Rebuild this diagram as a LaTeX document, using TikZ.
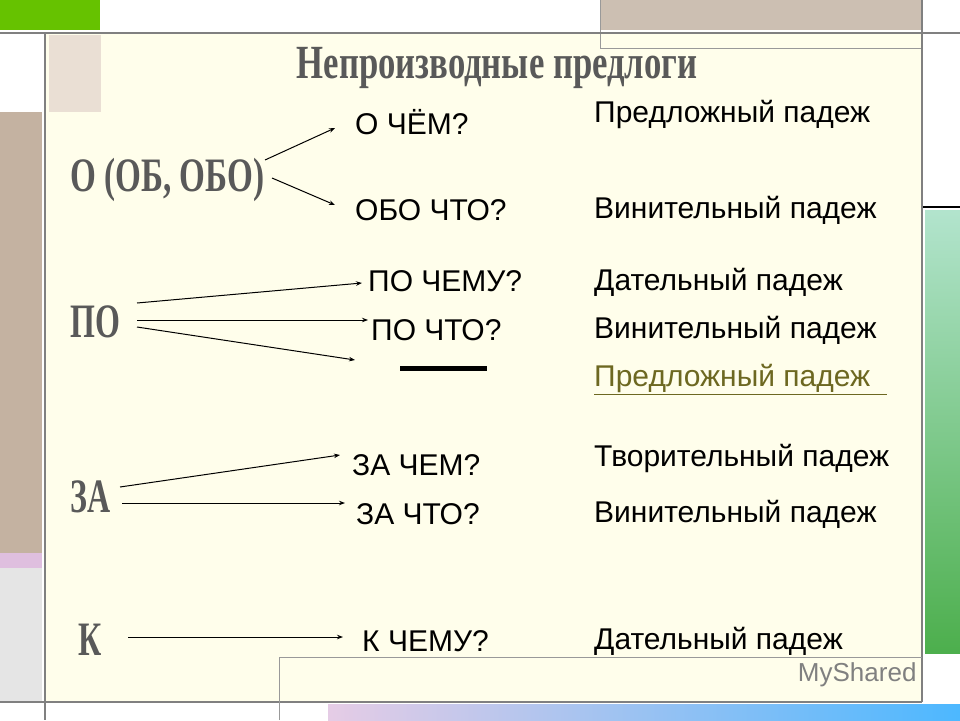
\documentclass[tikz,border=0pt]{standalone}
\usepackage{fontspec}
\setmainfont{Liberation Sans}
\newfontfamily\ttl{Liberation Serif}
\usetikzlibrary{arrows.meta}
\tikzset{
 q/.style={anchor=west,inner sep=0pt,font=\fontsize{30}{32}\selectfont},
 pr/.style={inner sep=0pt,text=black!65,font=\ttl\bfseries\fontsize{40}{44}\selectfont},
 ar/.style={-{Stealth[length=6pt,width=4.5pt]},line width=1pt},
}
\begin{document}
\begin{tikzpicture}[x=1pt,y=-1pt]
\useasboundingbox (0,0) rectangle (960,720);
\fill[white] (0,0) rectangle (960,720);
% decorative background
\fill[green!60!black!60!yellow] (0,0) rectangle (100,30);
\fill[brown!40!gray!50] (600,0) rectangle (922,30);
\fill[brown!45!gray!60] (0,112) rectangle (42,553);
\fill[violet!25] (0,553) rectangle (42,568);
\fill[gray!20] (0,568) rectangle (42,702);
\shade[top color=green!30!teal!30, bottom color=green!55!black!70] (925,210) rectangle (960,653);
\draw[line width=2pt] (922,207) -- (960,207);
\shade[left color=violet!20, right color=cyan!60!blue!70] (328,704) rectangle (960,720);
\fill[yellow!8] (45,33) rectangle (922,702);
\fill[gray!30!brown!25] (49,35) rectangle (101,112);
\draw[gray!80] (600,0) -- (600,48) -- (922,48);
\draw[gray,line width=2pt] (0,33) -- (960,33);
\draw[gray,line width=2pt] (45,33) -- (45,720);
\draw[gray,line width=1.5pt] (922,0) -- (922,702);
\draw[gray,line width=2.5pt] (0,702) -- (922,702);
\draw[gray!80] (279,720) -- (279,657) -- (922,657);
\node[font=\fontsize{26}{28}\selectfont,text=gray,anchor=east] (ms) at (920,675) {MyShared};
% title
\node[pr,font=\ttl\bfseries\fontsize{34}{36}\selectfont] (t) at (497,68) {\scalebox{1.02}[1.4]{Непроизводные предлоги}};
% prepositions
\node[pr,anchor=west] (o) at (70,180) {\scalebox{0.83}[1.2]{О (ОБ, ОБО)}};
\node[pr,anchor=west] (po) at (70,322) {\scalebox{0.8}[1.2]{ПО}};
\node[pr,anchor=west] (za) at (70,497) {\scalebox{0.8}[1.2]{ЗА}};
\node[pr,anchor=west] (k) at (78,640) {\scalebox{0.8}[1.2]{К}};
% questions
\node[q] (q1) at (355,122) {О ЧЁМ?};
\node[q] (q2) at (355,210) {ОБО ЧТО?};
\node[q] (q3) at (368,281) {ПО ЧЕМУ?};
\node[q] (q4) at (371,330) {ПО ЧТО?};
\node[q] (q5) at (352,465) {ЗА ЧЕМ?};
\node[q] (q6) at (356,514) {ЗА ЧТО?};
\node[q] (q7) at (362,641) {К ЧЕМУ?};
% cases
\node[q] (c1) at (594,114) {Предложный падеж};
\node[q] (c2) at (594,210) {Винительный падеж};
\node[q] (c3) at (594,282) {Дательный падеж};
\node[q] (c4) at (594,330) {Винительный падеж};
\node[q,text=olive!70!black] (c5) at (594,378) {Предложный падеж};
\draw[olive!70!black,line width=1.2pt] (c5.south west)++(0,2) -- ++(293,0);
\node[q] (c6) at (594,458) {Творительный падеж};
\node[q] (c7) at (594,514) {Винительный падеж};
\node[q] (c8) at (594,641) {Дательный падеж};
% arrows
\coordinate (a1) at (335,128); \coordinate (a2) at (335,205);
\coordinate (b1) at (362,283); \coordinate (b2) at (368,320); \coordinate (b3) at (355,360);
\coordinate (d1) at (340,455); \coordinate (d2) at (345,503); \coordinate (e1) at (343,637);
\coordinate (s1) at (265,160); \coordinate (s2) at (272,178);
\draw[ar] (s1) -- (a1);
\draw[ar] (s2) -- (a2);
\draw[ar] (137,303) -- (b1);
\draw[ar] (137,320) -- (b2);
\draw[ar] (137,327) -- (b3);
\draw[ar] (120,487) -- (d1);
\draw[ar] (122,503) -- (d2);
\draw[ar] (128,637) -- (e1);
\coordinate (l1) at (400,368); \coordinate (l2) at (487,368);
\draw[line width=5pt] (l1) -- (l2);
\end{tikzpicture}
\end{document}
